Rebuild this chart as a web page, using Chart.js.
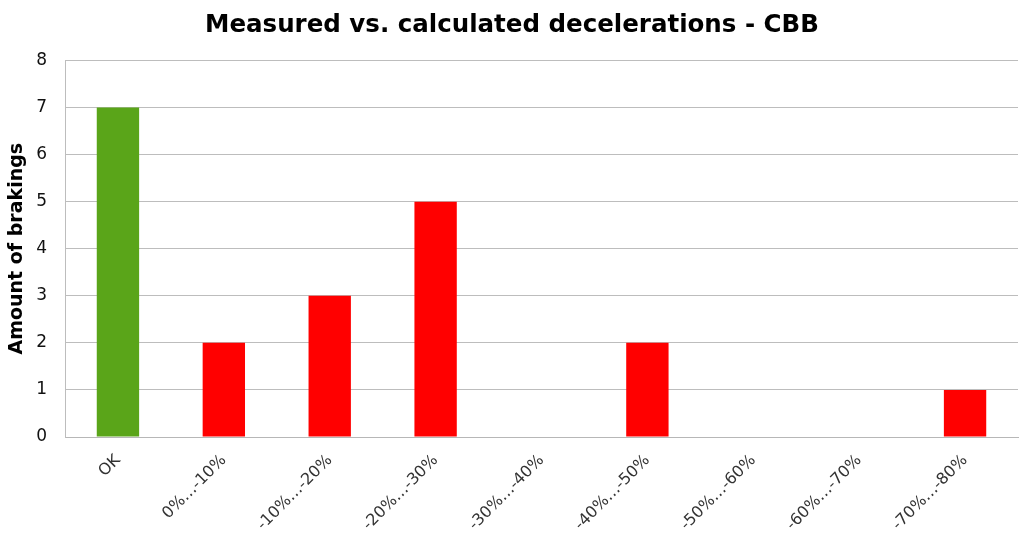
<!DOCTYPE html>
<html>
<head>
<meta charset="utf-8">
<script src="https://cdn.jsdelivr.net/npm/chart.js@4/dist/chart.umd.min.js"></script>
<style>
  html, body { margin: 0; padding: 0; background: #fff; }
  #wrap { width: 1019px; height: 537px; }
</style>
</head>
<body>
<div id="wrap"><canvas id="chart"></canvas></div>
<script>
  // Data
  const categories = ['OK', '0%\u2026-10%', '-10%\u2026-20%', '-20%\u2026-30%', '-30%\u2026-40%',
    '-40%\u2026-50%', '-50%\u2026-60%', '-60%\u2026-70%', '-70%\u2026-80%'];
  const brakings = [7, 2, 3, 5, 0, 2, 0, 0, 1];
  const barColors = ['#5aa519', '#ff0000', '#ff0000', '#ff0000', '#ff0000',
    '#ff0000', '#ff0000', '#ff0000', '#ff0000'];

  Chart.defaults.font.family = "'DejaVu Sans', Verdana, sans-serif";
  Chart.defaults.color = '#000';

  const ctx = document.getElementById('chart').getContext('2d');
  new Chart(ctx, {
    type: 'bar',
    data: {
      labels: categories,
      datasets: [{
        data: brakings,
        backgroundColor: barColors,
        categoryPercentage: 1,
        barPercentage: 0.4
      }]
    },
    options: {
      responsive: true,
      maintainAspectRatio: false,
      animation: false,
      layout: { padding: { left: 6, right: 1, top: 0, bottom: 0 } },
      plugins: {
        legend: { display: false },
        tooltip: { enabled: false },
        title: {
          display: true,
          text: 'Measured vs. calculated decelerations - CBB',
          font: { size: 24.5, weight: 'bold' },
          color: '#000',
          padding: { top: 11, bottom: 20 }
        }
      },
      scales: {
        x: {
          grid: { display: false, drawTicks: false },
          border: { color: '#b7b7b7' },
          ticks: {
            maxRotation: 45,
            minRotation: 45,
            autoSkip: false,
            color: '#333',
            padding: 14,
            font: { size: 16 }
          },
          afterFit: function(scale) { scale.height = 100; }
        },
        y: {
          min: 0,
          max: 8,
          ticks: { stepSize: 1, padding: 18, font: { size: 17 }, color: '#111' },
          grid: { color: '#bdbdbd', drawTicks: false },
          border: { color: '#bdbdbd' },
          title: {
            display: true,
            text: 'Amount of brakings',
            font: { size: 19, weight: 'bold' },
            color: '#000',
            padding: 0
          },
          afterFit: function(scale) { scale.width = 59; }
        }
      }
    }
  });
</script>
</body>
</html>
